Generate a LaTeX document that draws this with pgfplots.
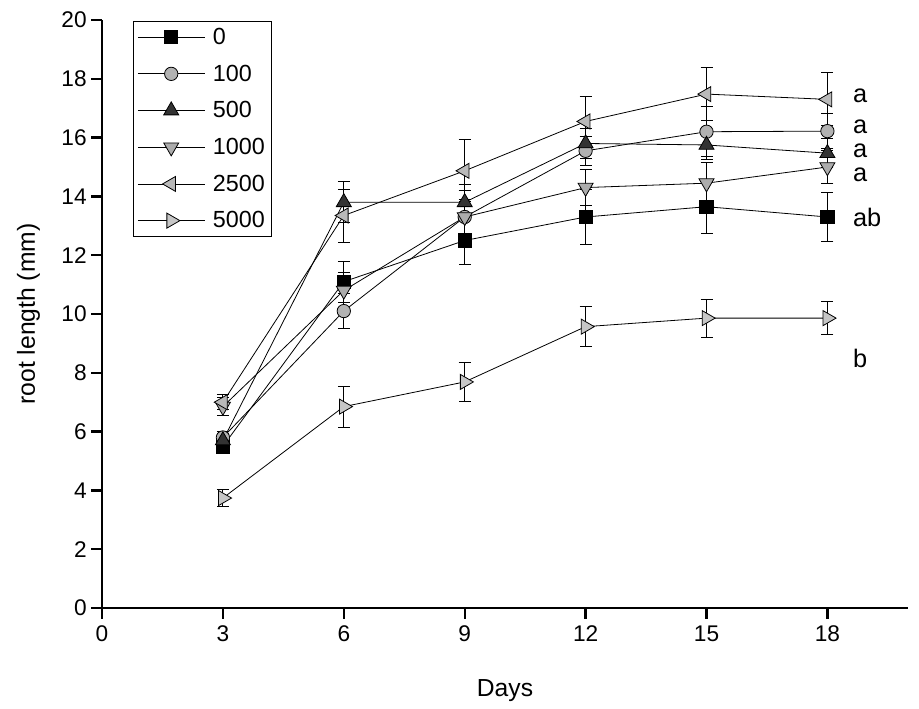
\documentclass[border=0pt]{standalone}
\usepackage{fontspec}
\setmainfont{Liberation Sans}
\usepackage{pgfplots}
\pgfplotsset{compat=1.18}
\begin{document}
\begin{tikzpicture}[x=1pt,y=1pt]
\begin{axis}[
  scale only axis,
  width=604.5pt, height=441pt,
  xmin=0, xmax=20, ymin=0, ymax=20,
  axis x line=bottom, axis y line=left,
  axis line style={line width=2pt,-},
  xtick={0,3,6,9,12,15,18}, ytick={0,2,...,20},
  tick style={line width=1.8pt,black},
  tick align=outside, major tick length=8pt,
  /pgf/number format/assume math mode=true,
  ticklabel style={font=\fontsize{17}{20}\selectfont},
  xticklabel style={yshift=-2pt},
  xlabel={Days}, ylabel={root length (mm)},
  label style={font=\fontsize{18.5}{22}\selectfont},
  xlabel style={at={(axis description cs:0.5,-0.151)},anchor=base},
  ylabel style={at={(axis description cs:-0.071,0.5)},anchor=south},
  every axis plot/.append style={black, line width=0.6pt, mark options={solid, line width=0.6pt}},
  error bars/y dir=both, error bars/y explicit,
  error bars/error bar style={line width=0.7pt,black},
  error bars/error mark options={rotate=90, mark size=4.5pt, line width=0.7pt},
  legend style={at={(axis cs:0.77,19.97)}, anchor=north west, draw=black, line width=0.7pt,
    font=\fontsize{17.5}{20}\selectfont, row sep=9.8pt, column sep=4pt, inner sep=3pt},
  legend cell align=left,
  legend image code/.code={\draw[mark repeat=2,mark phase=2,#1] plot coordinates {(0pt,0pt) (25pt,0pt) (50pt,0pt)};},
  clip=false,
]
\addplot[mark=square*, mark size=5pt, mark options={fill=black}] coordinates {
 (3,5.5) +- (0,0.25) (6,11.1) +- (0,0.7) (9,12.5) +- (0,0.8) (12,13.3) +- (0,0.95) (15,13.65) +- (0,0.9) (18,13.3) +- (0,0.83)};
\addlegendentry{0}
\addplot[mark=*, mark size=5pt, mark options={fill=gray!60}] coordinates {
 (3,5.8) +- (0,0.2) (6,10.1) +- (0,0.6) (9,13.3) +- (0,0.9) (12,15.55) +- (0,0.5) (15,16.2) +- (0,0.85) (18,16.22) +- (0,0.6)};
\addlegendentry{100}
\addplot[mark=triangle*, mark size=6.5pt, mark options={fill=black!80}] coordinates {
 (3,5.7) +- (0,0.25) (6,13.8) +- (0,0.7) (9,13.8) +- (0,0.6) (12,15.8) +- (0,0.5) (15,15.75) +- (0,0.5) (18,15.47) +- (0,0.5)};
\addlegendentry{500}
\addplot[mark=triangle*, mark size=6.5pt, mark options={fill=gray!65, rotate=180}] coordinates {
 (3,6.85) +- (0,0.3) (6,10.8) +- (0,0.6) (9,13.3) +- (0,0.6) (12,14.3) +- (0,0.6) (15,14.45) +- (0,0.7) (18,15.0) +- (0,0.55)};
\addlegendentry{1000}
\addplot[mark=triangle*, mark size=6.5pt, mark options={fill=gray!55, rotate=90}] coordinates {
 (3,7.0) +- (0,0.25) (6,13.35) +- (0,0.9) (9,14.87) +- (0,1.05) (12,16.55) +- (0,0.85) (15,17.48) +- (0,0.9) (18,17.3) +- (0,0.9)};
\addlegendentry{2500}
\addplot[mark=triangle*, mark size=6.5pt, mark options={fill=gray!45, rotate=-90}] coordinates {
 (3,3.74) +- (0,0.3) (6,6.85) +- (0,0.7) (9,7.69) +- (0,0.65) (12,9.57) +- (0,0.68) (15,9.86) +- (0,0.65) (18,9.86) +- (0,0.55)};
\addlegendentry{5000}
\begin{scope}[every node/.style={anchor=west, font=\fontsize{19}{22}\selectfont, inner sep=0pt}]
\node at (axis cs:18.63,17.42) {a};
\node at (axis cs:18.63,16.38) {a};
\node at (axis cs:18.63,15.55) {a};
\node at (axis cs:18.63,14.75) {a};
\node at (axis cs:18.63,13.30) {ab};
\node at (axis cs:18.63,8.50) {b};
\end{scope}
\end{axis}
\pgfresetboundingbox
\useasboundingbox (-76.5pt,-75pt) rectangle (612.75pt,456pt);
\end{tikzpicture}
\end{document}
